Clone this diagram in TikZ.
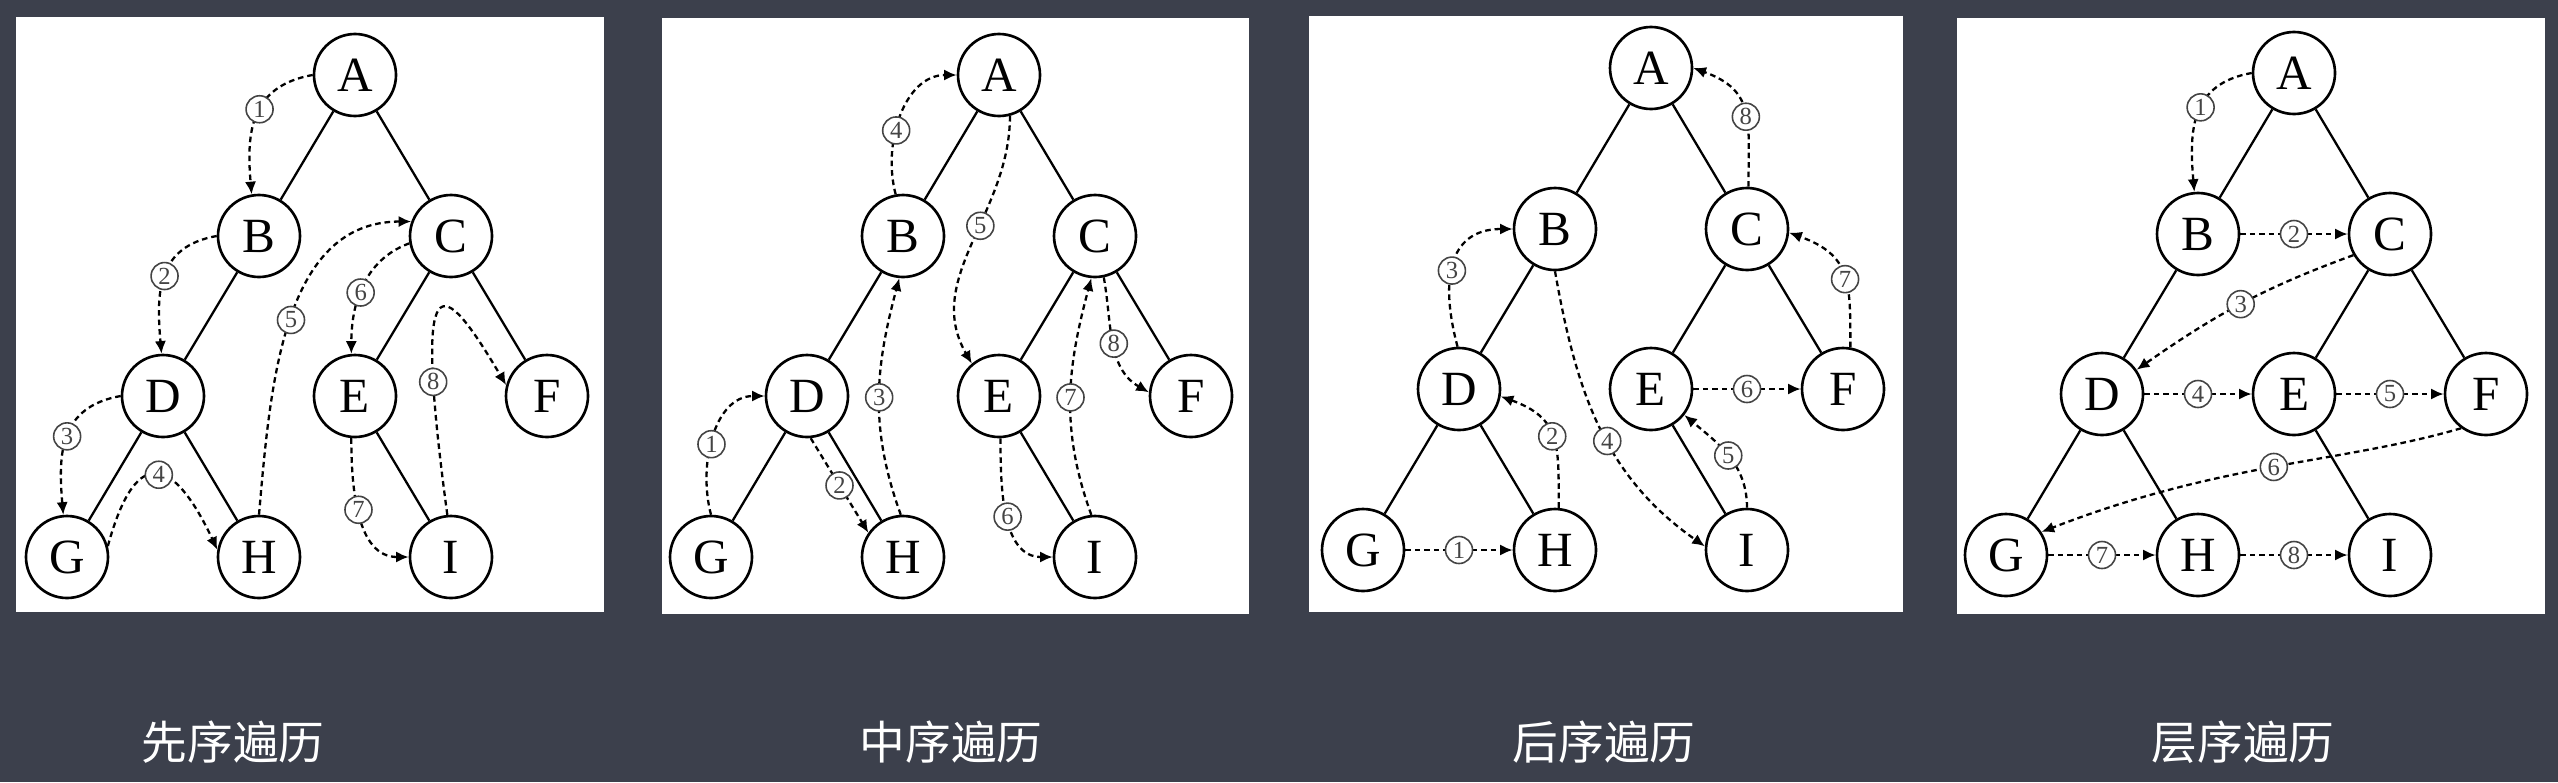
\documentclass[tikz,border=0pt]{standalone}
\usepackage{fontspec}
\setmainfont{Liberation Serif}
\newfontfamily\cjk{Noto Sans CJK SC}
\usetikzlibrary{arrows.meta}
\definecolor{boardcolor}{HTML}{3C404C}
\definecolor{numgray}{HTML}{444444}

% one binary tree, node names start with #1
\newcommand{\bintree}[1]{%
  \node[vtx] (#1A) at (0,0) {A};
  \node[vtx] (#1B) at (-0.96,-1.61) {B};
  \node[vtx] (#1C) at (0.96,-1.61) {C};
  \node[vtx] (#1D) at (-1.92,-3.21) {D};
  \node[vtx] (#1E) at (0,-3.21) {E};
  \node[vtx] (#1F) at (1.92,-3.21) {F};
  \node[vtx] (#1G) at (-2.88,-4.82) {G};
  \node[vtx] (#1H) at (-0.96,-4.82) {H};
  \node[vtx] (#1I) at (0.96,-4.82) {I};
  \draw[branch] (#1A) -- (#1B) (#1A) -- (#1C) (#1B) -- (#1D) (#1C) -- (#1E)
    (#1C) -- (#1F) (#1D) -- (#1G) (#1D) -- (#1H) (#1E) -- (#1I);
}

\begin{document}
\begin{tikzpicture}[
  vtx/.style={circle, draw, line width=0.75pt, fill=white, minimum size=0.82cm, inner sep=0pt, font=\fontsize{14}{15}\selectfont},
  branch/.style={line width=0.65pt},
  trav/.style={line width=0.65pt, dash pattern=on 1.6pt off 1.1pt, -{Latex[length=3.6pt,width=3.2pt]}},
  stepno/.style={solid, circle, draw=numgray, line width=0.45pt, fill=white, text=numgray, inner sep=0pt, minimum size=0.27cm, font=\fontsize{7}{7}\selectfont},
  boardlabel/.style={text=white, font=\cjk\fontsize{13}{13}\selectfont}]
  \useasboundingbox (0,0) rectangle (25.58,-7.82);
  \fill[boardcolor] (0,0) rectangle (25.58,-7.82);
  % white panels
  \fill[white] (0.16,-0.17) rectangle (6.04,-6.12);
  \fill[white] (6.62,-0.18) rectangle (12.49,-6.14);
  \fill[white] (13.09,-0.16) rectangle (19.03,-6.12);
  \fill[white] (19.57,-0.18) rectangle (25.45,-6.14);

  \begin{scope}[shift={(3.55,-0.75)}] \bintree{pre} \end{scope}
  \begin{scope}[shift={(9.99,-0.75)}] \bintree{in} \end{scope}
  \begin{scope}[shift={(16.51,-0.68)}] \bintree{post} \end{scope}
  \begin{scope}[shift={(22.94,-0.73)}] \bintree{lev} \end{scope}

  % pre-order
  \draw[trav] (preA.180) to[out=190,in=95,looseness=1.2] node[stepno,pos=0.45]{1} (preB.100);
  \draw[trav] (preB.180) to[out=190,in=95,looseness=1.2] node[stepno,pos=0.5]{2} (preD.92);
  \draw[trav] (preD.180) to[out=190,in=95,looseness=1.2] node[stepno,pos=0.5]{3} (preG.95);
  \draw[trav] (preG.15) .. controls +(0.3,1.1) and +(-0.4,0.85) .. (preH.170) node[stepno,pos=0.5]{4};
  \draw[trav] (preH.90) to[out=85,in=180] node[stepno,pos=0.5]{5} (preC.160);
  \draw[trav] (preC.190) to[out=200,in=90] node[stepno,pos=0.55]{6} (preE.95);
  \draw[trav] (preE.265) to[out=270,in=180] node[stepno,pos=0.45]{7} (preI.180);
  \draw[trav] (preI.95) .. controls +(-0.35,2.6) and +(-0.65,1.1) .. (preF.165) node[stepno,pos=0.22]{8};

  % in-order
  \draw[trav] (inG.90) to[out=105,in=180] node[stepno,pos=0.45]{1} (inD.180);
  \draw[trav] (inD.-85) -- node[stepno]{2} (inH.145);
  \draw[trav] (inH.93) to[out=110,in=255] node[stepno,pos=0.5]{3} (inB.-95);
  \draw[trav] (inB.100) to[out=105,in=180] node[stepno,pos=0.4]{4} (inA.180);
  \draw[trav] (inA.-75) to[out=-90,in=120] node[stepno,pos=0.42]{5} (inE.130);
  \draw[trav] (inE.-88) to[out=-90,in=180] node[stepno,pos=0.5]{6} (inI.180);
  \draw[trav] (inI.95) to[out=110,in=255] node[stepno,pos=0.5]{7} (inC.-95);
  \draw[trav] (inC.-78) to[out=-80,in=150] node[stepno,pos=0.5]{8} (inF.175);

  % post-order
  \draw[trav] (postG) -- node[stepno]{1} (postH);
  \draw[trav] (postH.85) to[out=90,in=-20,looseness=1.3] node[stepno,pos=0.5]{2} (postD.-10);
  \draw[trav] (postD.92) to[out=105,in=180,looseness=1.3] node[stepno,pos=0.45]{3} (postB.180);
  \draw[trav] (postB.-90) to[out=-80,in=145] node[stepno,pos=0.55]{4} (postI.175);
  \draw[trav] (postI.90) to[out=90,in=-40] node[stepno,pos=0.5]{5} (postE.-38);
  \draw[trav] (postE) -- node[stepno]{6} (postF);
  \draw[trav] (postF.80) to[out=90,in=-20,looseness=1.3] node[stepno,pos=0.45]{7} (postC.-5);
  \draw[trav] (postC.88) to[out=90,in=-20,looseness=1.3] node[stepno,pos=0.45]{8} (postA.0);

  % level-order
  \draw[trav] (levA.180) to[out=190,in=95,looseness=1.2] node[stepno,pos=0.45]{1} (levB.95);
  \draw[trav] (levB) -- node[stepno]{2} (levC);
  \draw[trav] (levC.210) to[out=200,in=35] node[stepno,pos=0.5]{3} (levD.35);
  \draw[trav] (levD) -- node[stepno]{4} (levE);
  \draw[trav] (levE) -- node[stepno]{5} (levF);
  \draw[trav] (levF.-126) .. controls +(-1.2,-0.35) and +(1.8,0.7) .. (levG.33) node[stepno,pos=0.5]{6};
  \draw[trav] (levG) -- node[stepno]{7} (levH);
  \draw[trav] (levH) -- node[stepno]{8} (levI);

  % captions
  \node[boardlabel] (precap) at (2.33,-7.42) {先序遍历};
  \node[boardlabel] (incap) at (9.51,-7.42) {中序遍历};
  \node[boardlabel] (postcap) at (16.04,-7.42) {后序遍历};
  \node[boardlabel] (levcap) at (22.43,-7.42) {层序遍历};
\end{tikzpicture}
\end{document}
